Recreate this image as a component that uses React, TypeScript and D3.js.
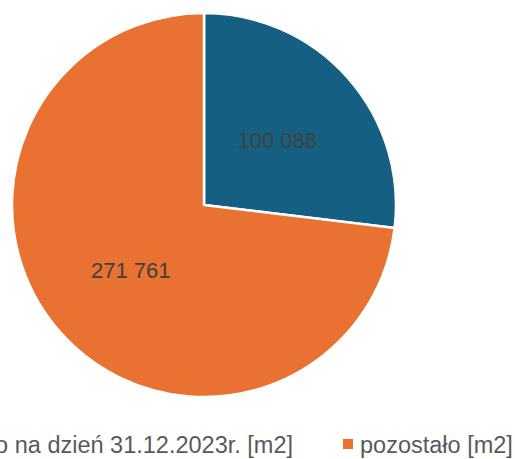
import React from 'react';
import * as d3 from 'd3';

const categories = ['wykonano na dzień 31.12.2023r. [m2]', 'pozostało [m2]'];
const values = [100088, 271761];
const colors = ['#156082', '#E97132'];

const W = 515;
const H = 459;
const cx = 204;
const cy = 205;
const radius = 192;

const fmt = (v: number) => d3.format(',')(v).replace(/,/g, ' ');

export default function App() {
  const pie = d3.pie<number>().sort(null).value((d) => d);
  const arcs = pie(values);
  const arc = d3.arc<d3.PieArcDatum<number>>().innerRadius(0).outerRadius(radius);
  const labelArc = d3.arc<d3.PieArcDatum<number>>().innerRadius(radius * 0.51).outerRadius(radius * 0.51);

  return (
    <div style={{ position: 'absolute', left: 0, top: 0 }}>
      <svg width={W} height={H} style={{ display: 'block', background: '#fff' }}>
        <g transform={`translate(${cx},${cy})`}>
          {arcs.map((a, i) => (
            <path key={i} d={arc(a) || ''} fill={colors[i]} stroke="#fff" strokeWidth={2.5} strokeLinejoin="round" />
          ))}
          {arcs.map((a, i) => {
            const [x, y] = labelArc.centroid(a);
            return (
              <text key={'l' + i} x={x} y={y} dy="0.35em" textAnchor="middle"
                fontFamily="Liberation Sans, Arial, sans-serif" fontSize={22} fill="#404040">
                {fmt(values[i])}
              </text>
            );
          })}
        </g>
        {/* legend, first item runs past the left edge like in the original */}
        <g fontFamily="Liberation Sans, Arial, sans-serif" fontSize={23.5} fill="#595959">
          <text x={293} y={453} textAnchor="end">{categories[0]}</text>
          <rect x={343} y={439} width={10} height={10} fill={colors[1]} />
          <text x={360} y={453}>{categories[1]}</text>
        </g>
      </svg>
    </div>
  );
}
